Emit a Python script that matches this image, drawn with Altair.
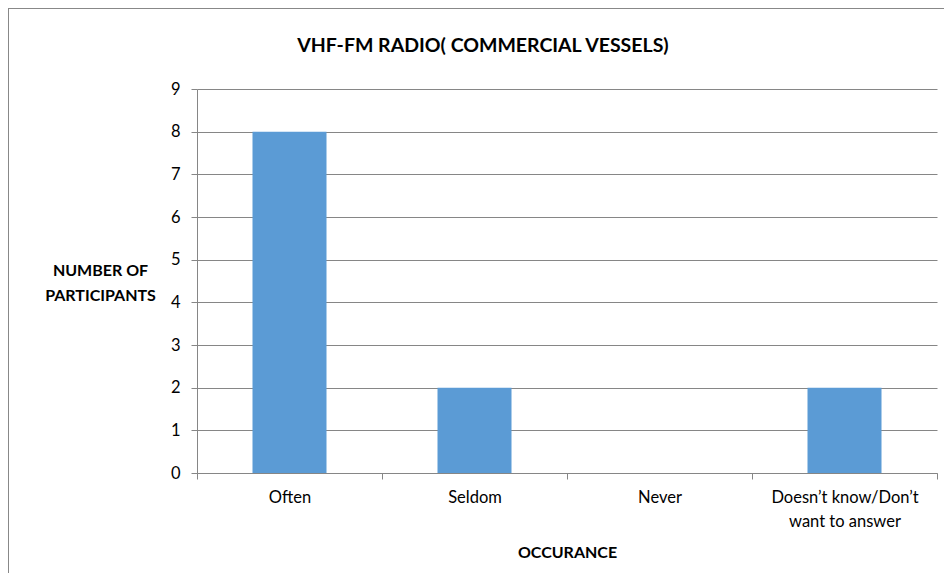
import altair as alt
import pandas as pd

categories = ["Often", "Seldom", "Never", "Doesn’t know/Don’t want to answer"]
participants = [8, 2, 0, 2]
y_ticks = [0, 1, 2, 3, 4, 5, 6, 7, 8, 9]

df = pd.DataFrame({"occurance": categories, "participants": participants})

FONT = "Lato"
GRID = "#868686"
BAR = "#5B9BD5"

label_expr = (
    "datum.label == 'Doesn’t know/Don’t want to answer' "
    "? ['Doesn’t know/Don’t', 'want to answer'] : datum.label"
)

bars = alt.Chart(df).mark_bar(color=BAR, width={"band": 0.4}).encode(
    x=alt.X(
        "occurance:N",
        sort=categories,
        scale=alt.Scale(paddingInner=0, paddingOuter=0),
        axis=alt.Axis(
            title="OCCURANCE",
            titleFont=FONT, titleFontSize=16, titleFontWeight="bold", titleColor="black",
            titlePadding=15,
            labelAngle=0, labelFont=FONT, labelFontSize=16.5, labelColor="black",
            labelPadding=10, labelExpr=label_expr, labelLineHeight=24,
            tickBand="extent", tickSize=6, tickColor=GRID, domainColor=GRID,
            grid=False,
        ),
    ),
    y=alt.Y(
        "participants:Q",
        scale=alt.Scale(domain=[0, 9], nice=False),
        axis=alt.Axis(
            values=y_ticks,
            title=["NUMBER OF", "PARTICIPANTS"],
            titleAngle=0, titleX=-97, titleY=181, titleAlign="center", titleBaseline="middle",
            titleFont=FONT, titleFontSize=16, titleFontWeight="bold", titleColor="black",
            titleLineHeight=25,
            labelFont=FONT, labelFontSize=16.5, labelColor="black", labelPadding=11,
            tickSize=6, tickColor=GRID, domainColor=GRID,
            gridColor=GRID, gridWidth=1,
        ),
    ),
)

frame_df = pd.DataFrame({"b": [0]})
left_border = alt.Chart(frame_df).mark_rule(color="#888888", strokeWidth=1).encode(
    x=alt.value(-188.5), y=alt.value(-81), y2=alt.value(700)
)
top_border = alt.Chart(frame_df).mark_rule(color="#888888", strokeWidth=1).encode(
    y=alt.value(-80.5), x=alt.value(-189), x2=alt.value(900)
)

chart = alt.layer(bars, left_border, top_border).properties(
    width=740,
    height=384,
    padding={"left": 189, "top": 81, "right": 7, "bottom": 100},
    autosize=alt.AutoSizeParams(type="none"),
    title=alt.TitleParams(
        "VHF-FM RADIO( COMMERCIAL VESSELS)",
        font=FONT, fontSize=19.5, fontWeight="bold", color="black",
        anchor="middle", dx=-84, offset=0, dy=64, baseline="alphabetic",
    ),
).configure_view(stroke=None)

chart.save("out.html", embed_options={"renderer": "svg", "actions": False})
